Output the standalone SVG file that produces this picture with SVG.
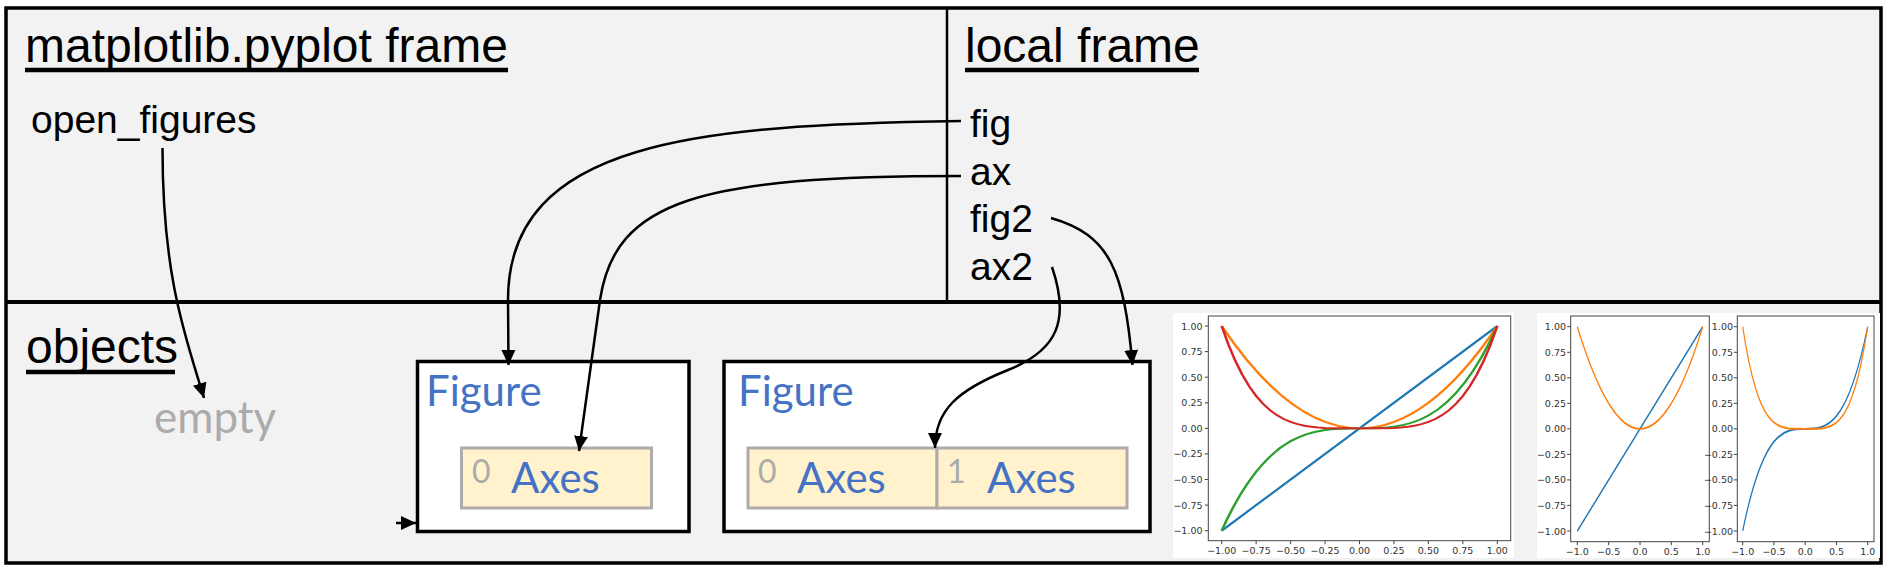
<svg xmlns="http://www.w3.org/2000/svg" xmlns:xlink="http://www.w3.org/1999/xlink" width="1890" height="570" viewBox="0 0 1890 570">
<style>
.title{font-family:"Liberation Sans",Arial,sans-serif;font-size:48px;fill:#000}
.var{font-family:"Liberation Sans",Arial,sans-serif;font-size:39px;fill:#000}
.ul{stroke:#000;stroke-width:4.5}
.cal{font-family:Lato,"Open Sans",sans-serif}
.blue{fill:#4472C4;font-size:42px}
.grey{fill:#ABABAB}
.figbox{fill:#fff;stroke:#000;stroke-width:3.5}
.axbox{fill:#FFF2CC;stroke:#AFABAB;stroke-width:3}
.conn{fill:none;stroke:#000;stroke-width:2.5;marker-end:url(#ah)}
.tick{font-family:"DejaVu Sans",sans-serif;font-size:9.5px;fill:#333}
.frame{fill:none;stroke:#444;stroke-width:1}
.tk{stroke:#444;stroke-width:1;fill:none}
.cv{fill:none;stroke-width:1.9;vector-effect:non-scaling-stroke}
.c0{stroke:#1f77b4}.c1{stroke:#ff7f0e}.c2{stroke:#2ca02c}.c3{stroke:#d62728}
</style>
<defs>
<marker id="ah" markerUnits="userSpaceOnUse" markerWidth="16" markerHeight="15" refX="15" refY="7.5" orient="auto"><path d="M0,0.5 L15,7.5 L0,14.5 z" fill="#000"/></marker>
<path id="lin" d="M-100,-100 L100,100"/>
<path id="sq" d="M-100,100 Q0,-100 100,100"/>
<path id="cube" d="M-100,-100 C-33.333,100 33.333,-100 100,100"/>
<path id="quart" d="M-100,100 L-95,81.45 -90,65.61 -85,52.2 -80,40.96 -75,31.64 -70,24.01 -65,17.85 -60,12.96 -55,9.15 -50,6.25 -45,4.1 -40,2.56 -35,1.5 -30,0.81 -25,0.39 -20,0.16 -10,0.01 0,0 10,0.01 20,0.16 25,0.39 30,0.81 35,1.5 40,2.56 45,4.1 50,6.25 55,9.15 60,12.96 65,17.85 70,24.01 75,31.64 80,40.96 85,52.2 90,65.61 95,81.45 100,100"/>
</defs>

<g id="frames">
<rect x="6" y="8" width="1875" height="555" fill="#F2F2F2" stroke="#000" stroke-width="3.5"/>
<line x1="6" y1="302" x2="1881" y2="302" stroke="#000" stroke-width="4"/>
<line x1="947" y1="8" x2="947" y2="302" stroke="#000" stroke-width="2.5"/>
</g>

<g id="pyplot-frame">
<text class="title" x="25" y="62">matplotlib.pyplot frame</text>
<line class="ul" x1="25" y1="70" x2="508" y2="70"/>
<text class="var" x="31" y="133">open_figures</text>
</g>

<g id="local-frame">
<text class="title" x="965" y="62">local frame</text>
<line class="ul" x1="965" y1="70" x2="1199" y2="70"/>
<text class="var" x="970" y="137">fig</text>
<text class="var" x="970" y="185">ax</text>
<text class="var" x="970" y="232">fig2</text>
<text class="var" x="970" y="280">ax2</text>
</g>

<g id="objects">
<text class="title" x="26" y="363">objects</text>
<line class="ul" x1="26" y1="372" x2="175" y2="372"/>
</g>

<g id="empty">
<text class="cal grey" x="154" y="433" font-size="44">empty</text>
</g>

<g id="figure1">
<rect class="figbox" x="417.5" y="361.5" width="271.5" height="170"/>
<text class="cal blue" x="426" y="406" font-size="44">Figure</text>
<rect class="axbox" x="461.5" y="448" width="190" height="60"/>
<text class="cal grey" x="472" y="483" font-size="32">0</text>
<text class="cal blue" x="511" y="493">Axes</text>
</g>

<g id="figure2">
<rect class="figbox" x="724" y="361.5" width="426" height="170"/>
<text class="cal blue" x="738" y="406" font-size="44">Figure</text>
<rect class="axbox" x="748" y="448" width="189" height="60"/>
<rect class="axbox" x="937" y="448" width="190" height="60"/>
<text class="cal grey" x="758" y="483" font-size="32">0</text>
<text class="cal blue" x="797" y="493">Axes</text>
<text class="cal grey" x="947" y="483" font-size="32">1</text>
<text class="cal blue" x="987" y="493">Axes</text>
</g>

<g id="chart1">
<rect x="1173" y="313" width="341" height="245" fill="#fff"/>
<g transform="matrix(1.378,0,0,-1.0235,1359.5,428.35)">
<use xlink:href="#lin" class="cv c0"/>
<use xlink:href="#sq" class="cv c1"/>
<use xlink:href="#cube" class="cv c2"/>
<use xlink:href="#quart" class="cv c3"/>
</g>
<rect class="frame" x="1208.3" y="316" width="302.4" height="224.7"/>
<path class="tk" d="M1204.8,326h3.5M1204.8,351.6h3.5M1204.8,377.2h3.5M1204.8,402.8h3.5M1204.8,428.35h3.5M1204.8,453.9h3.5M1204.8,479.5h3.5M1204.8,505.1h3.5M1204.8,530.7h3.5M1221.7,540.7v3.5M1256.15,540.7v3.5M1290.6,540.7v3.5M1325.05,540.7v3.5M1359.5,540.7v3.5M1393.95,540.7v3.5M1428.4,540.7v3.5M1462.85,540.7v3.5M1497.3,540.7v3.5"/>
<g class="tick" text-anchor="end">
<text x="1202.5" y="329.5">1.00</text>
<text x="1202.5" y="355.1">0.75</text>
<text x="1202.5" y="380.7">0.50</text>
<text x="1202.5" y="406.3">0.25</text>
<text x="1202.5" y="431.85">0.00</text>
<text x="1202.5" y="457.4">−0.25</text>
<text x="1202.5" y="483">−0.50</text>
<text x="1202.5" y="508.6">−0.75</text>
<text x="1202.5" y="534.2">−1.00</text>
</g>
<g class="tick" text-anchor="middle">
<text x="1221.7" y="554">−1.00</text>
<text x="1256.15" y="554">−0.75</text>
<text x="1290.6" y="554">−0.50</text>
<text x="1325.05" y="554">−0.25</text>
<text x="1359.5" y="554">0.00</text>
<text x="1393.95" y="554">0.25</text>
<text x="1428.4" y="554">0.50</text>
<text x="1462.85" y="554">0.75</text>
<text x="1497.3" y="554">1.00</text>
</g>
</g>

<g id="chart2">
<rect x="1537" y="313" width="343" height="245" fill="#fff"/>
<g transform="matrix(0.627,0,0,-1.0215,1640,428.85)">
<use xlink:href="#lin" class="cv c0"/>
<use xlink:href="#sq" class="cv c1"/>
</g>
<g transform="matrix(0.625,0,0,-1.0215,1805.2,428.85)">
<use xlink:href="#cube" class="cv c0"/>
<use xlink:href="#quart" class="cv c1"/>
</g>
<rect class="frame" x="1570.7" y="316" width="138.6" height="225.7"/>
<rect class="frame" x="1737.3" y="316" width="136.7" height="225.7"/>
<path class="tk" d="M1567.2,326.7h3.5M1567.2,352.3h3.5M1567.2,377.8h3.5M1567.2,403.3h3.5M1567.2,428.85h3.5M1567.2,454.4h3.5M1567.2,479.9h3.5M1567.2,505.4h3.5M1567.2,531h3.5M1733.8,326.7h3.5M1733.8,352.3h3.5M1733.8,377.8h3.5M1733.8,403.3h3.5M1733.8,428.85h3.5M1733.8,454.4h3.5M1733.8,479.9h3.5M1733.8,505.4h3.5M1733.8,531h3.5M1577.3,541.7v3.5M1608.65,541.7v3.5M1640,541.7v3.5M1671.35,541.7v3.5M1702.7,541.7v3.5M1742.7,541.7v3.5M1773.95,541.7v3.5M1805.2,541.7v3.5M1836.45,541.7v3.5M1867.7,541.7v3.5"/>
<g class="tick" text-anchor="end">
<text x="1566" y="330.2">1.00</text>
<text x="1566" y="355.8">0.75</text>
<text x="1566" y="381.3">0.50</text>
<text x="1566" y="406.8">0.25</text>
<text x="1566" y="432.35">0.00</text>
<text x="1566" y="457.9">−0.25</text>
<text x="1566" y="483.4">−0.50</text>
<text x="1566" y="508.9">−0.75</text>
<text x="1566" y="534.5">−1.00</text>
<text x="1733" y="330.2">1.00</text>
<text x="1733" y="355.8">0.75</text>
<text x="1733" y="381.3">0.50</text>
<text x="1733" y="406.8">0.25</text>
<text x="1733" y="432.35">0.00</text>
<text x="1733" y="457.9">−0.25</text>
<text x="1733" y="483.4">−0.50</text>
<text x="1733" y="508.9">−0.75</text>
<text x="1733" y="534.5">−1.00</text>
</g>
<g class="tick" text-anchor="middle">
<text x="1577.3" y="555">−1.0</text>
<text x="1608.65" y="555">−0.5</text>
<text x="1640" y="555">0.0</text>
<text x="1671.35" y="555">0.5</text>
<text x="1702.7" y="555">1.0</text>
<text x="1742.7" y="555">−1.0</text>
<text x="1773.95" y="555">−0.5</text>
<text x="1805.2" y="555">0.0</text>
<text x="1836.45" y="555">0.5</text>
<text x="1867.7" y="555">1.0</text>
</g>
</g>

<g id="connectors">
<path class="conn" d="M162.5,148 C162.5,278 186,338 204,398"/>
<path class="conn" d="M961,121 C700,125 508,140 508,300 L508.5,365"/>
<path class="conn" d="M961,176 C700,176 615,200 600,300 L579,451"/>
<path class="conn" d="M1051,218 C1110,235 1124,270 1132.5,365"/>
<path class="conn" d="M1052,267 C1070,320 1058,350 1008,370 C958,390 935,410 935,448"/>
<path class="conn" d="M396,523 L416,523"/>
</g>
</svg>
